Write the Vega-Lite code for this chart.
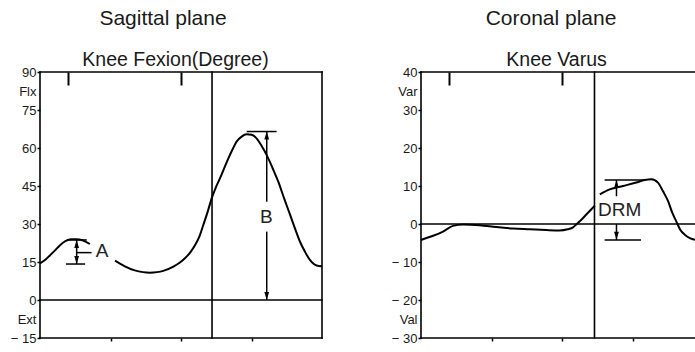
{
  "$schema": "https://vega.github.io/schema/vega-lite/v6.json",
  "background": "white",
  "padding": {"left": 10, "top": 8, "right": 0, "bottom": 0},
  "spacing": 65,
  "config": {
    "font": "Liberation Sans",
    "view": {"stroke": null},
    "axis": {"grid": false, "domain": false, "tickColor": "black", "labelColor": "#1a1a1a", "labelFont": "Liberation Sans", "labelOverlap": false, "titleFont": "Liberation Sans", "titleFontWeight": "normal", "titleColor": "#1a1a1a", "titleFontSize": 19.5},
    "title": {"font": "Liberation Sans", "fontWeight": "normal", "color": "#1a1a1a", "fontSize": 21, "offset": 20, "anchor": "middle"}
  },
  "datasets": {
    "flex": [
      {"t": 0, "v": 14.5, "seg": 1}, {"t": 2, "v": 16, "seg": 1}, {"t": 3.5, "v": 17.6, "seg": 1}, {"t": 5.5, "v": 19.8, "seg": 1}, {"t": 7.1, "v": 21.6, "seg": 1}, {"t": 9, "v": 23.2, "seg": 1}, {"t": 11, "v": 24, "seg": 1}, {"t": 13, "v": 24, "seg": 1}, {"t": 15, "v": 23.6, "seg": 1}, {"t": 17.7, "v": 22.1, "seg": 1},
      {"t": 26.6, "v": 15.5, "seg": 2}, {"t": 28.5, "v": 14.3, "seg": 2}, {"t": 30.1, "v": 13.3, "seg": 2}, {"t": 33.6, "v": 11.7, "seg": 2}, {"t": 36.5, "v": 11, "seg": 2}, {"t": 39, "v": 10.8, "seg": 2}, {"t": 41.5, "v": 11, "seg": 2}, {"t": 43.7, "v": 11.5, "seg": 2}, {"t": 47.3, "v": 13.2, "seg": 2}, {"t": 49.5, "v": 14.7, "seg": 2}, {"t": 51.4, "v": 16.5, "seg": 2}, {"t": 53.3, "v": 18.8, "seg": 2}, {"t": 55, "v": 21.7, "seg": 2}, {"t": 56.5, "v": 25, "seg": 2}, {"t": 57.9, "v": 29.6, "seg": 2}, {"t": 59.5, "v": 35, "seg": 2}, {"t": 60.9, "v": 40.2, "seg": 2}, {"t": 62.3, "v": 44.3, "seg": 2}, {"t": 63.8, "v": 48, "seg": 2}, {"t": 65.3, "v": 52, "seg": 2}, {"t": 66.8, "v": 55.9, "seg": 2}, {"t": 68.3, "v": 59.5, "seg": 2}, {"t": 69.7, "v": 62.5, "seg": 2}, {"t": 71.5, "v": 64.5, "seg": 2}, {"t": 73.3, "v": 65.4, "seg": 2}, {"t": 75, "v": 65.2, "seg": 2}, {"t": 76.8, "v": 63.8, "seg": 2}, {"t": 78.5, "v": 61, "seg": 2}, {"t": 80.4, "v": 57.2, "seg": 2}, {"t": 82.5, "v": 52, "seg": 2}, {"t": 84.5, "v": 46.7, "seg": 2}, {"t": 86.6, "v": 40, "seg": 2}, {"t": 88.7, "v": 33.6, "seg": 2}, {"t": 90.5, "v": 28, "seg": 2}, {"t": 92.2, "v": 23, "seg": 2}, {"t": 94, "v": 19, "seg": 2}, {"t": 95.7, "v": 15.8, "seg": 2}, {"t": 97, "v": 14.3, "seg": 2}, {"t": 98.1, "v": 13.6, "seg": 2}, {"t": 100, "v": 13.3, "seg": 2}
    ],
    "varus": [
      {"t": 0, "v": -4.2, "seg": 1}, {"t": 0.7, "v": -4.0, "seg": 1}, {"t": 4.3, "v": -3.1, "seg": 1}, {"t": 7.8, "v": -2.0, "seg": 1}, {"t": 11.3, "v": -0.5, "seg": 1}, {"t": 14.9, "v": -0.1, "seg": 1}, {"t": 20.8, "v": -0.3, "seg": 1}, {"t": 26.7, "v": -0.8, "seg": 1}, {"t": 32.6, "v": -1.2, "seg": 1}, {"t": 38.5, "v": -1.4, "seg": 1}, {"t": 44.4, "v": -1.6, "seg": 1}, {"t": 49.1, "v": -1.7, "seg": 1}, {"t": 52, "v": -1.4, "seg": 1}, {"t": 53.9, "v": -0.9, "seg": 1}, {"t": 55.2, "v": 0, "seg": 1}, {"t": 56.3, "v": 0.7, "seg": 1}, {"t": 58.6, "v": 2.5, "seg": 1}, {"t": 61.6, "v": 4.8, "seg": 1},
      {"t": 63.4, "v": 7.8, "seg": 2}, {"t": 66.9, "v": 9.1, "seg": 2}, {"t": 71.6, "v": 10, "seg": 2}, {"t": 76.3, "v": 10.9, "seg": 2}, {"t": 79.3, "v": 11.6, "seg": 2}, {"t": 81.7, "v": 11.8, "seg": 2}, {"t": 84, "v": 10.9, "seg": 2}, {"t": 85.8, "v": 8.6, "seg": 2}, {"t": 87.6, "v": 6, "seg": 2}, {"t": 89.1, "v": 2.9, "seg": 2}, {"t": 90.5, "v": 0.7, "seg": 2}, {"t": 91.9, "v": -1.5, "seg": 2}, {"t": 93.5, "v": -2.8, "seg": 2}, {"t": 95.3, "v": -3.7, "seg": 2}, {"t": 98.2, "v": -4.3, "seg": 2}
    ],
    "flexFrame": [
      {"t": 0, "t2": 100, "v": 90, "v2": 90},
      {"t": 0, "t2": 100, "v": -15, "v2": -15},
      {"t": 0, "t2": 0, "v": -15, "v2": 90},
      {"t": 100, "t2": 100, "v": -15, "v2": 90},
      {"t": 0, "t2": 100, "v": 0, "v2": 0},
      {"t": 61, "t2": 61, "v": -15, "v2": 90}
    ],
    "varFrame": [
      {"t": 0, "t2": 98.2, "v": 40, "v2": 40},
      {"t": 0, "t2": 98.2, "v": -30, "v2": -30},
      {"t": 0, "t2": 0, "v": -30, "v2": 40},
      {"t": 0, "t2": 98.2, "v": 0, "v2": 0},
      {"t": 61.5, "t2": 61.5, "v": -30, "v2": 40}
    ],
    "flexAnn": [
      {"t": 9.5, "t2": 16.6, "v": 23.7, "v2": 23.7},
      {"t": 13, "t2": 13, "v": 23.7, "v2": 14.2},
      {"t": 13, "t2": 18.3, "v": 18.7, "v2": 18.7},
      {"t": 9.2, "t2": 16, "v": 14.2, "v2": 14.2},
      {"t": 73.3, "t2": 83.9, "v": 66.5, "v2": 66.5},
      {"t": 80.4, "t2": 80.4, "v": 66.5, "v2": 38.8},
      {"t": 80.4, "t2": 80.4, "v": 27, "v2": 0}
    ],
    "flexArrows": [
      {"t": 13, "v": 22.1, "dir": "up"}, {"t": 13, "v": 15.8, "dir": "down"},
      {"t": 80.4, "v": 64.9, "dir": "up"}, {"t": 80.4, "v": 1.6, "dir": "down"}
    ],
    "flexText": [
      {"t": 22, "v": 19.2, "label": "A"}, {"t": 80.3, "v": 32.6, "label": "B"}
    ],
    "varAnn": [
      {"t": 65.1, "t2": 79.3, "v": 11.6, "v2": 11.6},
      {"t": 69.3, "t2": 69.3, "v": 11.6, "v2": 7.3},
      {"t": 69.3, "t2": 69.3, "v": 0, "v2": -4.2},
      {"t": 65.1, "t2": 78, "v": -4.2, "v2": -4.2}
    ],
    "varArrows": [
      {"t": 69.3, "v": 10.5, "dir": "up"}, {"t": 69.3, "v": -3.1, "dir": "down"}
    ],
    "varText": [
      {"t": 70.4, "v": 3.6, "label": "DRM"}
    ]
  },
  "hconcat": [
    {
      "width": 282,
      "height": 266,
      "title": {"text": "Sagittal plane", "dx": -18},
      "resolve": {"axis": {"x": "independent"}},
      "layer": [
        {
          "data": {"name": "flexFrame"},
          "mark": {"type": "rule", "color": "black", "strokeWidth": 1.6, "strokeCap": "square"},
          "encoding": {
            "x": {"field": "t", "type": "quantitative", "scale": {"domain": [0, 100], "nice": false, "zero": false},
                  "axis": {"orient": "bottom", "values": [25, 50, 75], "tickCount": 20, "labels": false, "tickSize": 3, "tickWidth": 1.5, "title": null}},
            "x2": {"field": "t2"},
            "y": {"field": "v", "type": "quantitative", "scale": {"domain": [-15, 90], "nice": false, "zero": false},
                  "axis": {"orient": "left", "values": [-15, -7.5, 0, 15, 30, 45, 60, 75, 82.5, 90], "tickCount": 20, "title": null, "tickSize": 3, "tickWidth": 1.5, "labelPadding": 1, "labelFontSize": 13, "labelOverlap": false, "labelBound": false, "labelFlush": false,
                           "tickOpacity": {"condition": {"test": "datum.value == 82.5 || datum.value == -7.5", "value": 0}, "value": 1},
                           "labelExpr": "datum.value == 82.5 ? 'Flx' : datum.value == -7.5 ? 'Ext' : datum.value < 0 ? '− ' + (-datum.value) : '' + datum.value"}},
            "y2": {"field": "v2"}
          }
        },
        {
          "data": {"name": "flex"},
          "mark": {"type": "line", "color": "black", "strokeWidth": 2, "interpolate": "monotone"},
          "encoding": {
            "x": {"field": "t", "type": "quantitative",
                  "axis": {"orient": "top", "values": [10, 50], "tickCount": 20, "labels": false, "tickSize": -13, "tickWidth": 2,
                           "title": "Knee Fexion(Degree)", "titleX": 135, "titleY": -7, "titleBaseline": "alphabetic", "titleAlign": "center", "titleAnchor": null}},
            "y": {"field": "v", "type": "quantitative"},
            "detail": {"field": "seg", "type": "nominal"}
          }
        },
        {
          "data": {"name": "flexAnn"},
          "mark": {"type": "rule", "color": "black", "strokeWidth": 1.5},
          "encoding": {
            "x": {"field": "t", "type": "quantitative", "axis": null},
            "x2": {"field": "t2"},
            "y": {"field": "v", "type": "quantitative"},
            "y2": {"field": "v2"}
          }
        },
        {
          "data": {"name": "flexArrows"},
          "mark": {"type": "point", "filled": true, "color": "black", "opacity": 1, "size": 64},
          "encoding": {
            "x": {"field": "t", "type": "quantitative", "axis": null},
            "y": {"field": "v", "type": "quantitative"},
            "shape": {"field": "dir", "type": "nominal", "scale": {"domain": ["up", "down"], "range": ["M0,-1L0.6,1L-0.6,1Z", "M0,1L0.6,-1L-0.6,-1Z"]}, "legend": null}
          }
        },
        {
          "data": {"name": "flexText"},
          "mark": {"type": "text", "fontSize": 19, "color": "#222", "font": "Liberation Sans"},
          "encoding": {
            "x": {"field": "t", "type": "quantitative", "axis": null},
            "y": {"field": "v", "type": "quantitative"},
            "text": {"field": "label"}
          }
        }
      ]
    },
    {
      "width": 277,
      "height": 266,
      "title": {"text": "Coronal plane", "dx": -8.5},
      "resolve": {"axis": {"x": "independent"}},
      "layer": [
        {
          "data": {"name": "varFrame"},
          "mark": {"type": "rule", "color": "black", "strokeWidth": 1.6, "strokeCap": "square"},
          "encoding": {
            "x": {"field": "t", "type": "quantitative", "scale": {"domain": [0, 98.2], "nice": false, "zero": false},
                  "axis": {"orient": "bottom", "values": [25, 50, 75], "tickCount": 20, "labels": false, "tickSize": 3, "tickWidth": 1.5, "title": null}},
            "x2": {"field": "t2"},
            "y": {"field": "v", "type": "quantitative", "scale": {"domain": [-30, 40], "nice": false, "zero": false},
                  "axis": {"orient": "left", "values": [-30, -25, -20, -10, 0, 10, 20, 30, 35, 40], "tickCount": 20, "title": null, "tickSize": 3, "tickWidth": 1.5, "labelPadding": 1, "labelFontSize": 13, "labelOverlap": false, "labelBound": false, "labelFlush": false,
                           "tickOpacity": {"condition": {"test": "datum.value == 35 || datum.value == -25", "value": 0}, "value": 1},
                           "labelExpr": "datum.value == 35 ? 'Var' : datum.value == -25 ? 'Val' : datum.value < 0 ? '− ' + (-datum.value) : '' + datum.value"}},
            "y2": {"field": "v2"}
          }
        },
        {
          "data": {"name": "varus"},
          "mark": {"type": "line", "color": "black", "strokeWidth": 2, "interpolate": "monotone"},
          "encoding": {
            "x": {"field": "t", "type": "quantitative",
                  "axis": {"orient": "top", "values": [10, 50], "tickCount": 20, "labels": false, "tickSize": -13, "tickWidth": 2,
                           "title": "Knee Varus", "titleX": 135, "titleY": -7, "titleBaseline": "alphabetic", "titleAlign": "center", "titleAnchor": null}},
            "y": {"field": "v", "type": "quantitative"},
            "detail": {"field": "seg", "type": "nominal"}
          }
        },
        {
          "data": {"name": "varAnn"},
          "mark": {"type": "rule", "color": "black", "strokeWidth": 1.5},
          "encoding": {
            "x": {"field": "t", "type": "quantitative", "axis": null},
            "x2": {"field": "t2"},
            "y": {"field": "v", "type": "quantitative"},
            "y2": {"field": "v2"}
          }
        },
        {
          "data": {"name": "varArrows"},
          "mark": {"type": "point", "filled": true, "color": "black", "opacity": 1, "size": 64},
          "encoding": {
            "x": {"field": "t", "type": "quantitative", "axis": null},
            "y": {"field": "v", "type": "quantitative"},
            "shape": {"field": "dir", "type": "nominal", "scale": {"domain": ["up", "down"], "range": ["M0,-1L0.6,1L-0.6,1Z", "M0,1L0.6,-1L-0.6,-1Z"]}, "legend": null}
          }
        },
        {
          "data": {"name": "varText"},
          "mark": {"type": "text", "fontSize": 19, "color": "#222", "font": "Liberation Sans"},
          "encoding": {
            "x": {"field": "t", "type": "quantitative", "axis": null},
            "y": {"field": "v", "type": "quantitative"},
            "text": {"field": "label"}
          }
        }
      ]
    }
  ]
}
